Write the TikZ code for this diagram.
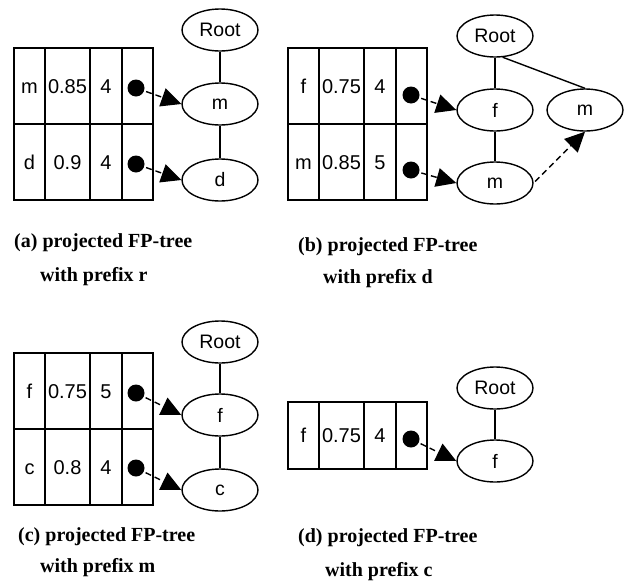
\documentclass[tikz,border=0pt]{standalone}
\usepackage{fontspec}
\setmainfont{Liberation Serif}
\newfontfamily\helvfont{Liberation Sans}
\usetikzlibrary{shapes, arrows.meta}
\tikzstyle{cell} = [rectangle, draw, line width=1.8pt, minimum height=76pt,
  inner sep=0pt, text height=14.2pt, text depth=0pt,
  font=\helvfont\fontsize{20}{24}\selectfont]
\tikzstyle{tnode} = [ellipse, draw, line width=1.4pt, minimum width=76pt,
  minimum height=42pt, inner sep=0pt, font=\helvfont\fontsize{19.5}{23}\selectfont]
\tikzstyle{hdot} = [circle, fill=black, minimum size=17pt, inner sep=0pt]
\tikzstyle{edge} = [draw, line width=1.4pt]
\tikzstyle{ptr} = [draw, line width=1.4pt, dash pattern=on 6pt off 4pt,
  -{Triangle[length=20pt,width=19pt]}, shorten <=2pt]
\tikzstyle{capline} = [anchor=west, inner sep=0pt, font=\bfseries\fontsize{20}{24}\selectfont]

\begin{document}
\begin{tikzpicture}[x=1pt, y=-1pt]

    \useasboundingbox (0,0) rectangle (629,584);

    % (a) prefix r
    \node [cell, minimum width=31pt] at (29.5,86) (ar1) {m};
    \node [cell, minimum width=45pt] at (67.5,86) (ar2) {0.85};
    \node [cell, minimum width=32pt] at (106,86) (ar3) {4};
    \node [cell, minimum width=31pt] at (137.5,86) (ar4) {};
    \node [cell, minimum width=31pt] at (29.5,162) (ad1) {d};
    \node [cell, minimum width=45pt] at (67.5,162) (ad2) {0.9};
    \node [cell, minimum width=32pt] at (106,162) (ad3) {4};
    \node [cell, minimum width=31pt] at (137.5,162) (ad4) {};
    \node [hdot] at (136,88) (arp) {};
    \node [hdot] at (136,164) (adp) {};

    \node [tnode] at (220,30) (aroot) {Root};
    \node [tnode] at (220,104) (am) {m};
    \node [tnode] at (220,180) (ad) {d};
    \draw [edge] (aroot) -- (am);
    \draw [edge] (am) -- (ad);
    \draw [ptr] (arp) -- (am.west);
    \draw [ptr] (adp) -- (ad.west);

    \node [capline] at (14,243) (acap1) {(a) projected FP-tree};
    \node [capline] at (40,277) (acap2) {with prefix r};

    % (b) prefix d
    \node [cell, minimum width=31pt] at (303.5,86) (bf1) {f};
    \node [cell, minimum width=45pt] at (341.5,86) (bf2) {0.75};
    \node [cell, minimum width=32pt] at (380,86) (bf3) {4};
    \node [cell, minimum width=31pt] at (411.5,86) (bf4) {};
    \node [cell, minimum width=31pt] at (303.5,162) (bm1) {m};
    \node [cell, minimum width=45pt] at (341.5,162) (bm2) {0.85};
    \node [cell, minimum width=32pt] at (380,162) (bm3) {5};
    \node [cell, minimum width=31pt] at (411.5,162) (bm4) {};
    \node [hdot] at (411,95) (bfp) {};
    \node [hdot] at (411,170) (bmp) {};

    \node [tnode] at (495,36) (broot) {Root};
    \node [tnode] at (495,110) (bf) {f};
    \node [tnode] at (495,183) (bm) {m};
    \node [tnode] at (585,110) (bmr) {m};
    \draw [edge] (broot) -- (bf);
    \draw [edge] (bf) -- (bm);
    \draw [edge] (broot.-70) -- (bmr.north);
    \draw [ptr] (bfp) -- (bf.west);
    \draw [ptr] (bmp) -- (bm.west);
    \draw [ptr] (bm.east) -- (bmr.south);

    \node [capline] at (298,247) (bcap1) {(b) projected FP-tree};
    \node [capline] at (323,279) (bcap2) {with prefix d};

    % (c) prefix m
    \node [cell, minimum width=31pt] at (29.5,391) (cf1) {f};
    \node [cell, minimum width=45pt] at (67.5,391) (cf2) {0.75};
    \node [cell, minimum width=32pt] at (106,391) (cf3) {5};
    \node [cell, minimum width=31pt] at (137.5,391) (cf4) {};
    \node [cell, minimum width=31pt] at (29.5,467) (cc1) {c};
    \node [cell, minimum width=45pt] at (67.5,467) (cc2) {0.8};
    \node [cell, minimum width=32pt] at (106,467) (cc3) {4};
    \node [cell, minimum width=31pt] at (137.5,467) (cc4) {};
    \node [hdot] at (136,393) (cfp) {};
    \node [hdot] at (136,468) (ccp) {};

    \node [tnode] at (220,342) (croot) {Root};
    \node [tnode] at (220,415) (cf) {f};
    \node [tnode] at (220,490) (cc) {c};
    \draw [edge] (croot) -- (cf);
    \draw [edge] (cf) -- (cc);
    \draw [ptr] (cfp) -- (cf.west);
    \draw [ptr] (ccp) -- (cc.west);

    \node [capline] at (18,537) (ccap1) {(c) projected FP-tree};
    \node [capline] at (40,568) (ccap2) {with prefix m};

    % (d) prefix c
    \node [cell, minimum width=31pt, minimum height=67pt] at (303.5,435.5) (df1) {f};
    \node [cell, minimum width=45pt, minimum height=67pt] at (341.5,435.5) (df2) {0.75};
    \node [cell, minimum width=32pt, minimum height=67pt] at (380,435.5) (df3) {4};
    \node [cell, minimum width=31pt, minimum height=67pt] at (411.5,435.5) (df4) {};
    \node [hdot] at (411,439) (dfp) {};

    \node [tnode] at (495,388) (droot) {Root};
    \node [tnode] at (495,461) (df) {f};
    \draw [edge] (droot) -- (df);
    \draw [ptr] (dfp) -- (df.west);

    \node [capline] at (298,538) (dcap1) {(d) projected FP-tree};
    \node [capline] at (325,572) (dcap2) {with prefix c};

\end{tikzpicture}
\end{document}
